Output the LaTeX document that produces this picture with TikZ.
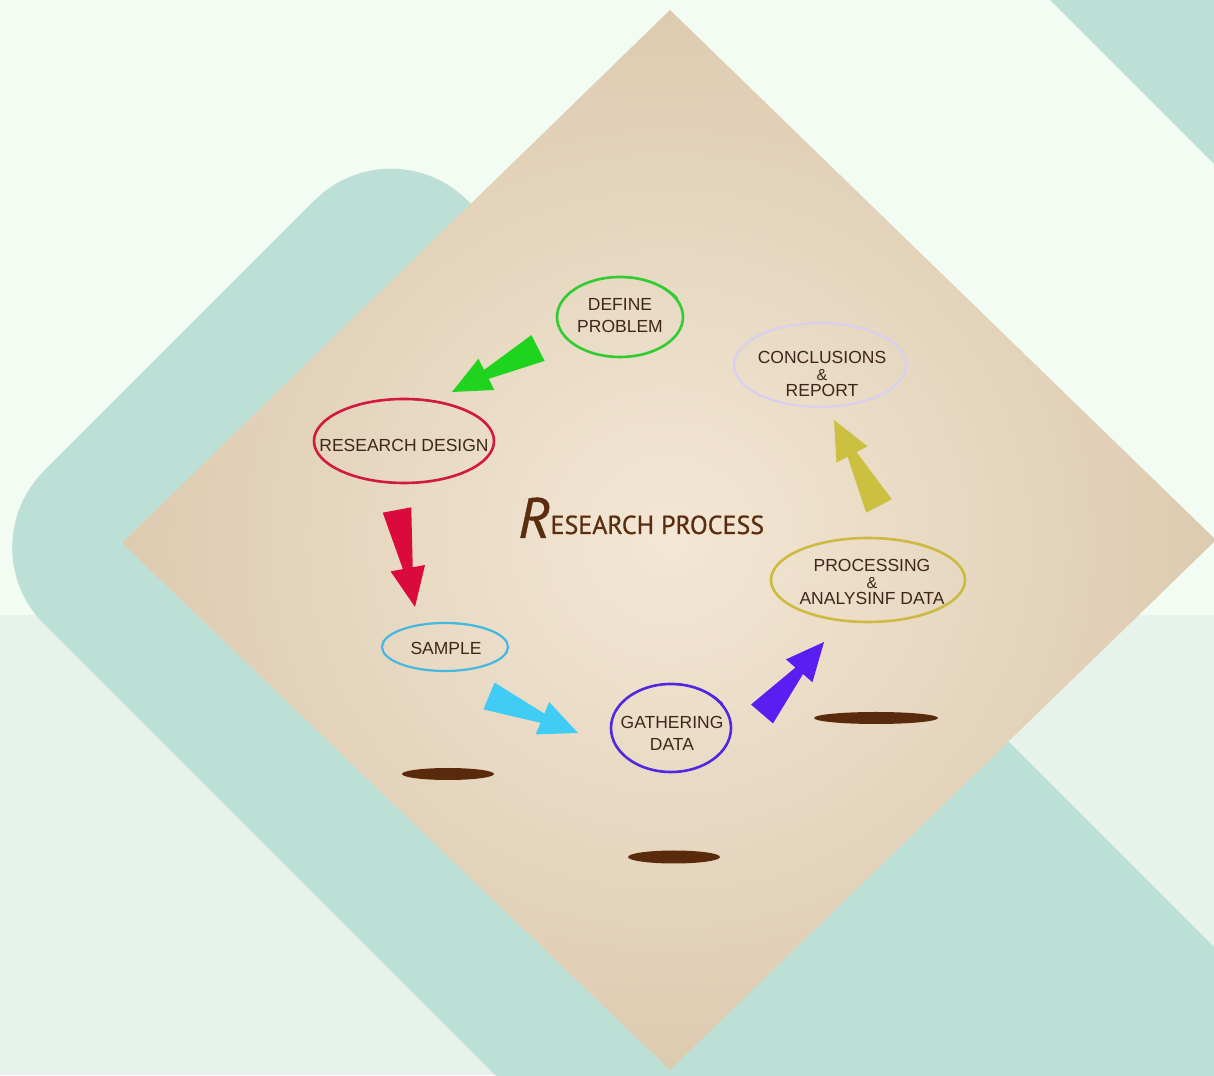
\documentclass[tikz,border=0pt]{standalone}
\usepackage{fontspec}
\setmainfont{Liberation Sans}
\newfontfamily\titlefont[FakeBold=0.7]{PT Sans}
\usetikzlibrary{calc}

\definecolor{topbg}{HTML}{F2FCF3}
\definecolor{lowbg}{HTML}{E7F3EA}
\definecolor{band}{HTML}{BDE0D6}
\definecolor{paperlight}{HTML}{F3E7D5}
\definecolor{paperdark}{HTML}{DDCBB0}
\definecolor{ink}{HTML}{40261A}
\definecolor{titleink}{HTML}{5A2C10}
\definecolor{hole}{HTML}{5A2A0C}
\definecolor{cgreen}{HTML}{1ED41E}
\definecolor{cred}{HTML}{DA0A3C}
\definecolor{ccyan}{HTML}{40CCF5}
\definecolor{cpurple}{HTML}{5A1EF2}
\definecolor{colive}{HTML}{CCC040}
\definecolor{rgreen}{HTML}{30CC30}
\definecolor{rred}{HTML}{D01A40}
\definecolor{rcyan}{HTML}{44B8E2}
\definecolor{rpurple}{HTML}{5028E0}
\definecolor{rolive}{HTML}{CDBA40}
\definecolor{rlilac}{HTML}{D8D0EE}

% block arrow from tail (#2) to tip (#3)
\newcommand{\stagearrow}[3]{%
  \fill[#1] ($(#2)!14.5pt!90:(#3)$)
    -- ($(#2)!0.6!(#3)!5pt!90:(#3)$)
    -- ($(#2)!0.6!(#3)!17.5pt!90:(#3)$)
    -- (#3)
    -- ($(#2)!0.6!(#3)!17.5pt!-90:(#3)$)
    -- ($(#2)!0.6!(#3)!5pt!-90:(#3)$)
    -- ($(#2)!14.5pt!-90:(#3)$) -- cycle;}

\begin{document}
\begin{tikzpicture}[x=1pt, y=1pt,
    stage/.style={align=center, text=ink, inner sep=0pt, font=\fontsize{17.5}{22}\selectfont},
    stage3/.style={stage, font=\fontsize{17.5}{16.5}\selectfont},
    ring/.style={line width=2.6pt},
    tail/.style={line width=1.8pt, line cap=round}
]
\useasboundingbox (0,0) rectangle (1214,1075);
\clip (0,0) rectangle (1214,1075);

% Background
\fill[topbg] (0,460) rectangle (1214,1075);
\fill[lowbg] (0,0) rectangle (1214,460);
\fill[band] (1050,1075) -- (1214,1075) -- (1214,911) -- cycle;
\fill[band, rounded corners=108pt] (391,951) -- (-32.5,527.5) -- (947.5,-452.5) -- (1371,-29) -- cycle;

% Paper
\shade[inner color=paperlight, outer color=paperdark] (670,1065) -- (122,532) -- (670,5) -- (1216,535) -- cycle;

% Holes
\fill[hole] (448,301) ellipse[x radius=46, y radius=6];
\fill[hole] (674,218) ellipse[x radius=46, y radius=6.5];
\fill[hole] (876,357) ellipse[x radius=62, y radius=6];

% Title
\node[anchor=base west, text=titleink, inner sep=0pt] (title) at (518,537)
  {\titlefont{\fontsize{57}{57}\selectfont\itshape R}\raisebox{4pt}{\fontsize{26}{26}\selectfont ESEARCH PROCESS}};

% Stages
\node[stage] (dp) at (620,759) {DEFINE\\PROBLEM};
\node[stage3] (cr) at (822,701) {CONCLUSIONS\\{\fontsize{16}{15}\selectfont\&}\\REPORT};
\node[stage] (rd) at (404,630) {RESEARCH DESIGN};
\node[stage3] (pa) at (872,493) {PROCESSING\\{\fontsize{16}{15}\selectfont\&}\\ANALYSINF DATA};
\node[stage] (sp) at (446,427) {SAMPLE};
\node[stage] (gd) at (672,342) {GATHERING\\DATA};

% Rings
\draw[ring, rgreen] ($(dp)+(0,-1)$) ellipse[x radius=63, y radius=40];
\draw[tail, rgreen] ($(dp)+(0,-1)+(95:63 and 40)$) arc[start angle=95, end angle=30, x radius=66, y radius=43];
\draw[ring, rlilac, line width=2.3pt] ($(cr)+(-2,9)$) ellipse[x radius=86, y radius=42];
\draw[tail, rlilac] ($(cr)+(-2,9)+(90:86 and 42)$) arc[start angle=90, end angle=40, x radius=89, y radius=45];
\draw[ring, rred] ($(rd)+(0,4)$) ellipse[x radius=90, y radius=42];
\draw[tail, rred] ($(rd)+(0,4)+(85:90 and 42)$) arc[start angle=85, end angle=35, x radius=93, y radius=45];
\draw[ring, rolive] ($(pa)+(-4,2)$) ellipse[x radius=97, y radius=42];
\draw[tail, rolive] ($(pa)+(-4,2)+(85:97 and 42)$) arc[start angle=85, end angle=35, x radius=100, y radius=45];
\draw[ring, rcyan, line width=2.2pt] ($(sp)+(-1,1)$) ellipse[x radius=63, y radius=24];
\draw[tail, rcyan, line width=1.5pt] ($(sp)+(-1,1)+(85:63 and 24)$) arc[start angle=85, end angle=35, x radius=66, y radius=27];
\draw[ring, rpurple] ($(gd)+(-1,5)$) ellipse[x radius=60, y radius=44];
\draw[tail, rpurple] ($(gd)+(-1,5)+(88:60 and 44)$) arc[start angle=88, end angle=35, x radius=63, y radius=47];

% Arrows
\coordinate (a1s) at (538,727); \coordinate (a1e) at (452,683);
\coordinate (a2s) at (397,565); \coordinate (a2e) at (415,468);
\coordinate (a3s) at (489,379); \coordinate (a3e) at (578,342);
\coordinate (a4s) at (762,361); \coordinate (a4e) at (824,433);
\coordinate (a5s) at (879,569); \coordinate (a5e) at (834,655);
\stagearrow{cgreen}{a1s}{a1e}
\stagearrow{cred}{a2s}{a2e}
\stagearrow{ccyan}{a3s}{a3e}
\stagearrow{cpurple}{a4s}{a4e}
\stagearrow{colive}{a5s}{a5e}

\end{tikzpicture}
\end{document}
